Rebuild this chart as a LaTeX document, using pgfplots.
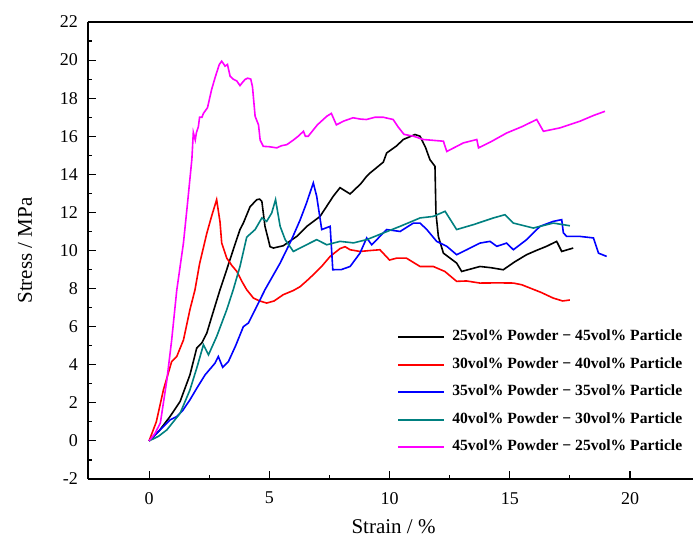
\documentclass[border=0pt]{standalone}
\usepackage{pgfplots}
\pgfplotsset{compat=1.18}
\usepackage{fontspec}
\setmainfont{Liberation Serif}
\definecolor{tealc}{RGB}{0,128,128}
\definecolor{magc}{RGB}{255,0,255}
\begin{document}
\begin{tikzpicture}
\path[use as bounding box] (-88pt,-63pt) rectangle (605pt,479pt);
\begin{axis}[
  scale only axis, width=605pt, height=457pt,
  xmin=-2.54, xmax=22.62, ymin=-2, ymax=22,
  axis x line*=box, axis y line*=left,
  xtick pos=left, ytick pos=left,
  xtick={0,5,10,15,20}, ytick={-2,0,...,22},
  minor x tick num=1, minor y tick num=1,
  major tick length=8pt, minor tick length=4pt,
  tick align=inside,
  axis line style={line width=1.2pt},
  every tick/.style={black, line width=1.1pt},
  /pgf/number format/assume math mode=true,
  tick label style={font=\fontsize{18}{18}\selectfont},
  yticklabel style={inner sep=0pt, xshift=-10pt},
  xticklabel style={inner sep=0pt, yshift=-13pt},
  xlabel={Strain / \%}, ylabel={Stress / MPa},
  label style={font=\fontsize{21}{21}\selectfont},
  xlabel style={at={(axis description cs:0.505,-0.105)}, anchor=center},
  ylabel style={at={(axis description cs:-0.104,0.5)}, anchor=center},
  legend style={draw=none, fill=none, inner sep=0pt, at={(axis description cs:0.511,0.325)}, anchor=north west,
    font=\bfseries\fontsize{15.6}{15.6}\selectfont,
    nodes={inner sep=0pt, text height=10pt, text depth=3pt},
    row sep=14.5pt},
  legend cell align=left,
  legend image code/.code={\draw[#1, line width=2pt] (0pt,0pt) -- (46pt,0pt);},
  /tikz/every odd column/.append style={column sep=7pt},
  every axis plot/.append style={line width=1.6pt},
]
\addplot[black] coordinates {(0,0) (0.4,0.5) (0.87,1.28) (1.29,2.07) (1.7,3.47) (1.98,4.87) (2.19,5.14) (2.4,5.66) (2.61,6.54) (2.95,7.94) (3.09,8.46) (3.5,10.04) (3.78,11.1) (3.92,11.44) (4.2,12.3) (4.48,12.67) (4.6,12.7) (4.69,12.58) (4.82,11.27) (4.96,10.57) (5.03,10.2) (5.17,10.13) (5.58,10.25) (6.14,10.74) (6.56,11.27) (7.11,11.79) (7.66,12.85) (7.94,13.3) (8.36,12.97) (8.8,13.5) (9.05,13.9) (9.19,14.07) (9.74,14.64) (9.88,15.12) (10.3,15.5) (10.57,15.83) (11.06,16.09) (11.27,16.0) (11.5,15.4) (11.68,14.77) (11.89,14.42) (11.93,11.97) (12.03,10.74) (12.24,9.86) (12.79,9.34) (13.0,8.9) (13.76,9.16) (14.2,9.1) (14.73,8.99) (15.2,9.4) (15.7,9.78) (16.1,10.0) (16.53,10.22) (16.95,10.48) (17.16,9.95) (17.64,10.13)};
\addlegendentry{25vol\% Powder − 45vol\% Particle}
\addplot[red] coordinates {(0,0) (0.3,1.0) (0.6,2.7) (0.94,4.17) (1.15,4.43) (1.43,5.3) (1.7,6.9) (1.91,7.94) (2.1,9.3) (2.4,10.9) (2.6,11.8) (2.81,12.67) (2.95,11.5) (3.02,10.4) (3.23,9.6) (3.45,9.2) (3.65,8.9) (3.85,8.4) (4.06,7.94) (4.34,7.5) (4.6,7.35) (4.89,7.24) (5.2,7.35) (5.58,7.68) (6.0,7.9) (6.28,8.1) (6.55,8.4) (6.83,8.73) (7.2,9.2) (7.53,9.69) (7.94,10.1) (8.15,10.2) (8.36,10.04) (8.77,9.95) (9.2,10.0) (9.6,10.04) (10.0,9.5) (10.3,9.6) (10.7,9.6) (11.27,9.16) (11.82,9.16) (12.3,8.9) (12.79,8.38) (13.2,8.4) (13.76,8.29) (14.5,8.3) (15.15,8.29) (15.5,8.2) (15.84,8.03) (16.3,7.8) (16.81,7.5) (17.2,7.35) (17.5,7.4)};
\addlegendentry{30vol\% Powder − 40vol\% Particle}
\addplot[blue] coordinates {(0,0) (0.46,0.58) (0.87,1.1) (1.15,1.28) (1.4,1.6) (1.7,2.16) (2.0,2.8) (2.33,3.47) (2.74,4.08) (2.88,4.43) (3.06,3.87) (3.3,4.17) (3.6,5.0) (3.92,6.0) (4.13,6.19) (4.41,6.89) (4.82,7.94) (5.45,9.34) (5.9,10.5) (6.28,11.6) (6.55,12.5) (6.83,13.55) (6.97,12.85) (7.18,11.1) (7.53,11.27) (7.64,8.99) (8.0,9.0) (8.36,9.16) (8.77,9.86) (9.05,10.66) (9.26,10.3) (9.6,10.74) (9.88,11.1) (10.44,11.0) (10.99,11.44) (11.27,11.44) (11.55,11.1) (11.96,10.48) (12.38,10.22) (12.79,9.78) (13.21,10.04) (13.76,10.39) (14.18,10.48) (14.46,10.22) (14.87,10.39) (15.15,10.04) (15.7,10.57) (16.26,11.27) (16.81,11.53) (17.16,11.62) (17.23,10.92) (17.37,10.74) (17.92,10.74) (18.48,10.66) (18.69,9.86) (19.03,9.69)};
\addlegendentry{35vol\% Powder − 35vol\% Particle}
\addplot[tealc] coordinates {(0,0) (0.4,0.25) (0.74,0.58) (1.29,1.45) (1.7,2.68) (2.0,3.9) (2.26,5.05) (2.47,4.52) (2.81,5.48) (3.23,6.89) (3.5,7.94) (3.78,9.16) (4.06,10.7) (4.41,11.1) (4.69,11.71) (4.89,11.53) (5.1,11.97) (5.26,12.67) (5.45,11.27) (5.66,10.57) (6.0,9.95) (6.42,10.22) (6.97,10.57) (7.39,10.3) (7.94,10.48) (8.5,10.4) (9.05,10.57) (9.74,10.92) (10.44,11.27) (11.27,11.71) (11.82,11.79) (12.31,12.06) (12.79,11.1) (13.49,11.36) (14.32,11.71) (14.8,11.88) (15.15,11.44) (15.98,11.18) (16.81,11.44) (17.5,11.3)};
\addlegendentry{40vol\% Powder − 30vol\% Particle}
\addplot[magc] coordinates {(0,0) (0.25,0.4) (0.47,0.95) (0.74,3.2) (0.94,5.3) (1.15,7.9) (1.43,10.4) (1.6,12.5) (1.78,14.8) (1.84,16.2) (1.92,15.8) (1.97,16.2) (2.05,16.5) (2.1,17.0) (2.2,17.0) (2.26,17.2) (2.43,17.5) (2.6,18.45) (2.75,19.1) (2.92,19.77) (3.02,19.94) (3.1,19.8) (3.16,19.68) (3.26,19.77) (3.37,19.15) (3.5,19.0) (3.65,18.9) (3.78,18.66) (3.9,18.85) (3.99,18.98) (4.1,19.05) (4.23,19.0) (4.3,18.6) (4.41,17.05) (4.55,16.6) (4.62,15.8) (4.75,15.47) (5.0,15.45) (5.31,15.39) (5.5,15.5) (5.73,15.56) (6.0,15.8) (6.2,16.0) (6.42,16.26) (6.5,16.0) (6.62,16.0) (7.0,16.6) (7.39,17.05) (7.58,17.2) (7.79,16.6) (8.1,16.8) (8.48,16.97) (8.8,16.9) (9.04,16.88) (9.4,17.0) (9.73,17.0) (10.15,16.88) (10.35,16.5) (10.6,16.1) (11.0,16.0) (11.4,15.83) (12.24,15.74) (12.38,15.2) (13.07,15.65) (13.63,15.83) (13.7,15.39) (14.2,15.7) (14.87,16.17) (15.5,16.5) (16.12,16.88) (16.4,16.26) (17.09,16.44) (17.92,16.79) (18.5,17.1) (18.96,17.31)};
\addlegendentry{45vol\% Powder − 25vol\% Particle}
\end{axis}
\end{tikzpicture}
\end{document}
